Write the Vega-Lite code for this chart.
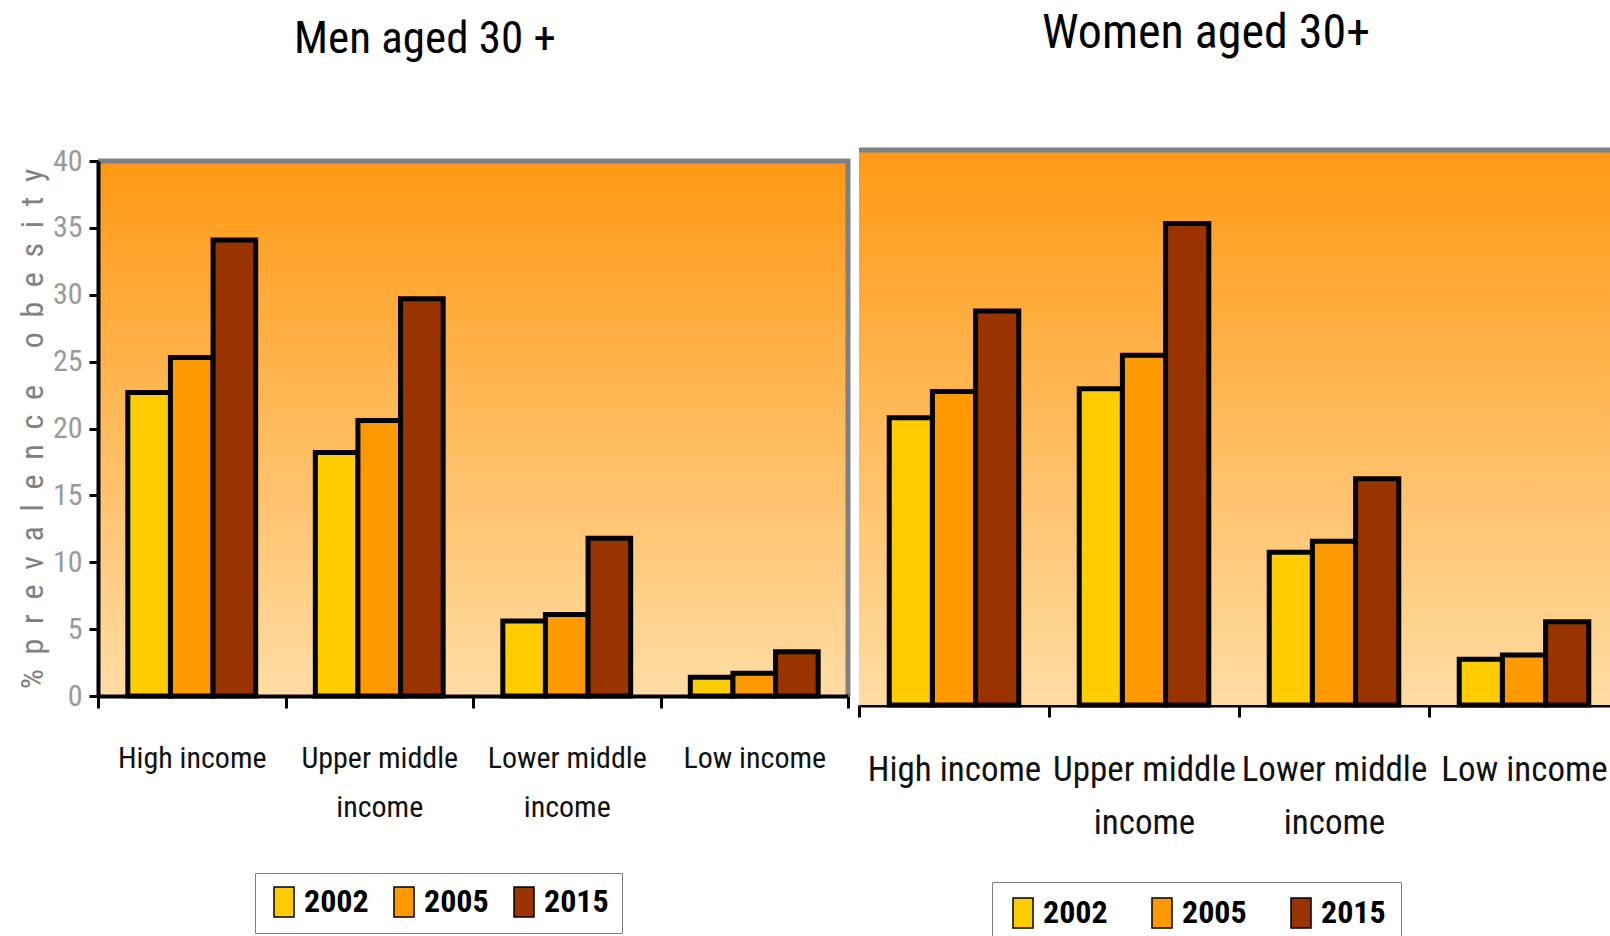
{
  "$schema": "https://vega.github.io/schema/vega-lite/v6.json",
  "padding": {"left": 13, "top": 10, "right": 0, "bottom": 0},
  "background": "white",
  "datasets": {
    "men": [
      {"income": "High income", "year": "2002", "value": 22.7},
      {"income": "High income", "year": "2005", "value": 25.3},
      {"income": "High income", "year": "2015", "value": 34.1},
      {"income": "Upper middle income", "year": "2002", "value": 18.2},
      {"income": "Upper middle income", "year": "2005", "value": 20.6},
      {"income": "Upper middle income", "year": "2015", "value": 29.7},
      {"income": "Lower middle income", "year": "2002", "value": 5.6},
      {"income": "Lower middle income", "year": "2005", "value": 6.1},
      {"income": "Lower middle income", "year": "2015", "value": 11.8},
      {"income": "Low income", "year": "2002", "value": 1.4},
      {"income": "Low income", "year": "2005", "value": 1.7},
      {"income": "Low income", "year": "2015", "value": 3.3}
    ],
    "women": [
      {"income": "High income", "year": "2002", "value": 20.7},
      {"income": "High income", "year": "2005", "value": 22.6},
      {"income": "High income", "year": "2015", "value": 28.4},
      {"income": "Upper middle income", "year": "2002", "value": 22.8},
      {"income": "Upper middle income", "year": "2005", "value": 25.2},
      {"income": "Upper middle income", "year": "2015", "value": 34.7},
      {"income": "Lower middle income", "year": "2002", "value": 11.0},
      {"income": "Lower middle income", "year": "2005", "value": 11.8},
      {"income": "Lower middle income", "year": "2015", "value": 16.3},
      {"income": "Low income", "year": "2002", "value": 3.3},
      {"income": "Low income", "year": "2005", "value": 3.6},
      {"income": "Low income", "year": "2015", "value": 6.0}
    ],
    "frame": [{"top": 40, "bottom": 0}]
  },
  "config": {
    "font": "Liberation Sans Narrow, Roboto Condensed, DejaVu Sans Condensed, Arial Narrow, sans-serif",
    "concat": {"spacing": 4},
    "axis": {"grid": false}
  },
  "hconcat": [
    {
      "resolve": {"scale": {"color": "independent"}, "legend": {"color": "independent"}},
      "vconcat": [
        {
          "data": {"name": "men"},
          "width": 750,
          "height": 535,
          "title": {"text": "Men aged 30 +", "fontSize": 45, "fontWeight": "normal", "color": "#000", "frame": "group", "offset": 84, "dx": -48},
          "view": {
            "fill": {"gradient": "linear", "x1": 0, "y1": 0, "x2": 0, "y2": 1, "stops": [{"offset": 0, "color": "#FF9914"}, {"offset": 1, "color": "#FFDCA4"}]},
            "stroke": "#808080",
            "strokeWidth": 5,
            "strokeDash": [1285, 1300]
          },
          "mark": {"type": "bar", "stroke": "#000", "strokeWidth": 5},
          "encoding": {
            "x": {
              "field": "income", "type": "nominal",
              "sort": ["High income", "Upper middle income", "Lower middle income", "Low income"],
              "scale": {"paddingInner": 0, "paddingOuter": 0},
              "axis": {
                "title": null, "tickBand": "extent", "labelAngle": 0, "labelFontSize": 30, "labelColor": "#111",
                "labelPadding": 35, "labelLineHeight": 49, "labelOverlap": false, "labelLimit": 400, "labelBaseline": "top",
                "labelExpr": "datum.value == 'Upper middle income' ? ['Upper middle', 'income'] : datum.value == 'Lower middle income' ? ['Lower middle', 'income'] : datum.value",
                "tickSize": 12, "tickWidth": 3, "tickColor": "#000", "domainColor": "#000", "domainWidth": 4
              }
            },
            "xOffset": {"field": "year", "type": "nominal", "scale": {"paddingInner": 0, "paddingOuter": 0.7}},
            "y": {
              "field": "value", "type": "quantitative",
              "scale": {"domain": [0, 40], "nice": false},
              "axis": {
                "values": [0, 5, 10, 15, 20, 25, 30, 35, 40],
                "title": "% \u00a0p \u00a0r \u00a0e \u00a0v \u00a0a \u00a0l \u00a0e \u00a0n \u00a0c \u00a0e \u00a0\u00a0 \u00a0o \u00a0b \u00a0e \u00a0s \u00a0i \u00a0t \u00a0y",
                "titleFontSize": 32, "titleColor": "#808080", "titleFontWeight": "normal", "titlePadding": 3,
                "labelFontSize": 30, "labelColor": "#9a9a9a", "labelPadding": 7,
                "tickSize": 9, "tickWidth": 3, "tickColor": "#000", "domainColor": "#000", "domainWidth": 4
              }
            },
            "color": {
              "field": "year", "type": "nominal",
              "scale": {"domain": ["2002", "2005", "2015"], "range": ["#FFCC00", "#FF9900", "#993300"]},
              "legend": {
                "orient": "none", "legendX": 157, "legendY": 712, "title": null, "direction": "horizontal", "columns": 3,
                "columnPadding": 19, "padding": 13, "strokeColor": "#808080", "fillColor": "#ffffff",
                "symbolType": "M-0.667,-1H0.667V1H-0.667Z", "symbolSize": 900,
                "labelFontSize": 32, "labelFontWeight": "bold", "labelOffset": 4, "labelColor": "#000",
                "encode": {
                  "legend": {"update": {"strokeWidth": {"value": 3}}},
                  "symbols": {"update": {"stroke": {"signal": "datum.value == '2002' ? '#8c7000' : datum.value == '2005' ? '#8a5000' : '#4a1800'"}, "strokeWidth": {"value": 3}}}
                }
              }
            }
          }
        }
      ]
    },
    {
      "resolve": {"scale": {"color": "independent"}, "legend": {"color": "independent"}},
      "vconcat": [
        {
          "width": 760,
          "height": 544,
          "title": {"text": "Women aged 30+", "fontSize": 48, "fontWeight": "normal", "color": "#000", "frame": "group", "offset": 89, "dx": -33},
          "view": {"stroke": null},
          "layer": [
            {
              "data": {"name": "frame"},
              "mark": {"type": "rect", "fill": {"gradient": "linear", "x1": 0, "y1": 0, "x2": 0, "y2": 1, "stops": [{"offset": 0, "color": "#FF9914"}, {"offset": 1, "color": "#FFDCA4"}]}},
              "encoding": {
                "y": {"field": "top", "type": "quantitative", "scale": {"domain": [0, 39.207], "nice": false}, "axis": null},
                "y2": {"field": "bottom"}
              }
            },
            {
              "data": {"name": "frame"},
              "mark": {"type": "rule", "color": "#808080", "strokeWidth": 5},
              "encoding": {
                "y": {"field": "top", "type": "quantitative", "scale": {"domain": [0, 39.207], "nice": false}, "axis": null}
              }
            },
            {
              "data": {"name": "women"},
              "mark": {"type": "bar", "stroke": "#000", "strokeWidth": 5},
              "encoding": {
                "x": {
                  "field": "income", "type": "nominal",
                  "sort": ["High income", "Upper middle income", "Lower middle income", "Low income"],
                  "scale": {"paddingInner": 0, "paddingOuter": 0},
                  "axis": {
                    "title": null, "tickBand": "extent", "labelAngle": 0, "labelFontSize": 35, "labelColor": "#111",
                    "labelPadding": 35, "labelLineHeight": 53, "labelOverlap": false, "labelLimit": 400, "labelBaseline": "top",
                    "labelExpr": "datum.value == 'Upper middle income' ? ['Upper middle', 'income'] : datum.value == 'Lower middle income' ? ['Lower middle', 'income'] : datum.value",
                    "tickSize": 12, "tickWidth": 3, "tickColor": "#000", "domainColor": "#000", "domainWidth": 4
                  }
                },
                "xOffset": {"field": "year", "type": "nominal", "scale": {"paddingInner": 0, "paddingOuter": 0.7}},
                "y": {
                  "field": "value", "type": "quantitative",
                  "scale": {"domain": [0, 39.207], "nice": false},
                  "axis": null
                },
                "color": {
                  "field": "year", "type": "nominal",
                  "scale": {"domain": ["2002", "2005", "2015"], "range": ["#FFCC00", "#FF9900", "#993300"]},
                  "legend": {
                    "orient": "none", "legendX": 133, "legendY": 721, "title": null, "direction": "horizontal", "columns": 3,
                    "columnPadding": 38, "padding": 15, "strokeColor": "#808080", "fillColor": "#ffffff",
                    "symbolType": "M-0.667,-1H0.667V1H-0.667Z", "symbolSize": 900,
                    "labelFontSize": 32, "labelFontWeight": "bold", "labelOffset": 4, "labelColor": "#000",
                    "encode": {
                      "legend": {"update": {"strokeWidth": {"value": 3}}},
                      "symbols": {"update": {"stroke": {"signal": "datum.value == '2002' ? '#8c7000' : datum.value == '2005' ? '#8a5000' : '#4a1800'"}, "strokeWidth": {"value": 3}}}
                    }
                  }
                }
              }
            }
          ]
        }
      ]
    }
  ],
  "resolve": {"scale": {"color": "independent", "x": "independent", "y": "independent", "xOffset": "independent"}}
}
